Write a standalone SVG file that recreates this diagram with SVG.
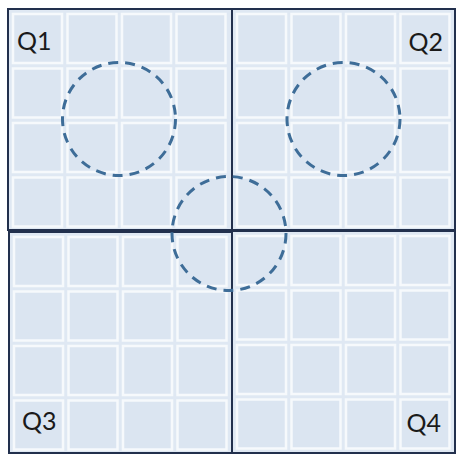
<svg xmlns="http://www.w3.org/2000/svg" width="457" height="454" viewBox="0 0 457 454">
<defs>
<style>
.bg{fill:#dfe8f3;stroke:none}
.cell{fill:#dbe5f1;stroke:#f6f9fc;stroke-width:2.5}
.frame{fill:none;stroke:#22304d;stroke-width:2}
.ring{fill:none;stroke:#3e6d98;stroke-width:3;stroke-dasharray:10 7}
.lbl{font-family:Lato,"Liberation Sans",sans-serif;font-size:25px;fill:#1a1a1a}
</style>
<g id="grid">
<rect class="cell" x="5" y="5" width="49" height="49"/>
<rect class="cell" x="59.5" y="5" width="49" height="49"/>
<rect class="cell" x="114" y="5" width="49" height="49"/>
<rect class="cell" x="168.5" y="5" width="49" height="49"/>
<rect class="cell" x="5" y="59.5" width="49" height="49"/>
<rect class="cell" x="59.5" y="59.5" width="49" height="49"/>
<rect class="cell" x="114" y="59.5" width="49" height="49"/>
<rect class="cell" x="168.5" y="59.5" width="49" height="49"/>
<rect class="cell" x="5" y="114" width="49" height="49"/>
<rect class="cell" x="59.5" y="114" width="49" height="49"/>
<rect class="cell" x="114" y="114" width="49" height="49"/>
<rect class="cell" x="168.5" y="114" width="49" height="49"/>
<rect class="cell" x="5" y="168.5" width="49" height="49"/>
<rect class="cell" x="59.5" y="168.5" width="49" height="49"/>
<rect class="cell" x="114" y="168.5" width="49" height="49"/>
<rect class="cell" x="168.5" y="168.5" width="49" height="49"/>
</g>
</defs>
<rect width="457" height="454" fill="#ffffff"/>
<g id="q1">
<rect class="bg" x="8" y="9" width="224" height="221"/>
<use href="#grid" x="8" y="9"/>
<rect class="frame" x="8" y="9" width="224" height="221"/>
<text class="lbl" x="17" y="50">Q1</text>
</g>
<g id="q2">
<rect class="bg" x="232" y="9" width="223" height="221"/>
<use href="#grid" x="232" y="9"/>
<rect class="frame" x="232" y="9" width="223" height="221"/>
<text class="lbl" x="443" y="51" text-anchor="end">Q2</text>
</g>
<g id="q3">
<rect class="bg" x="9" y="232" width="223" height="221"/>
<use href="#grid" x="9" y="232"/>
<rect class="frame" x="9" y="232" width="223" height="221"/>
<text class="lbl" x="22" y="430">Q3</text>
</g>
<g id="q4">
<rect class="bg" x="232" y="231" width="223" height="222"/>
<use href="#grid" x="232" y="231"/>
<rect class="frame" x="232" y="231" width="223" height="222"/>
<text class="lbl" x="441" y="432" text-anchor="end">Q4</text>
</g>
<g id="circle-q1"><circle class="ring" cx="119" cy="119" r="56.5"/></g>
<g id="circle-q2"><circle class="ring" cx="343.5" cy="119" r="56.5"/></g>
<g id="circle-center"><circle class="ring" cx="229" cy="233.5" r="57"/></g>
<g id="connectors"/>
</svg>
